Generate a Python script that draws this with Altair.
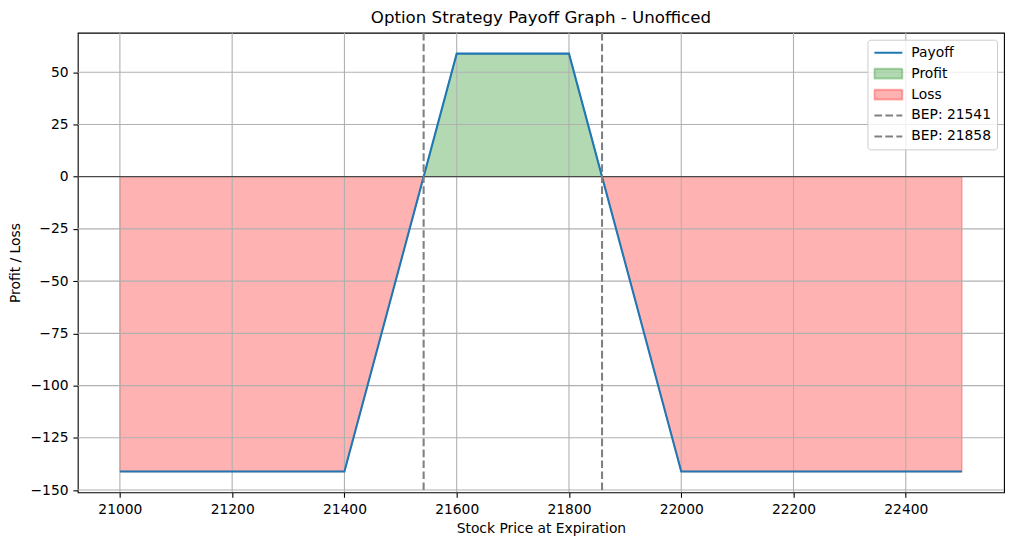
import altair as alt
import pandas as pd

# ---- data ----
price = [21000, 21400, 21600, 21800, 22000, 22500]
payoff = [-141.1, -141.1, 58.9, 58.9, -141.1, -141.1]
x_ticks = [21000, 21200, 21400, 21600, 21800, 22000, 22200, 22400]
y_ticks = [-150, -125, -100, -75, -50, -25, 0, 25, 50]
x_domain = [20925, 22575]
y_domain = [-151.1, 68.9]
chart_title = "Option Strategy Payoff Graph - Unofficed"
x_title = "Stock Price at Expiration"
y_title = "Profit / Loss"

# ---- break-even points (zero crossings of the payoff) ----
beps = []
pts = []
for i in range(len(price)):
    pts.append((price[i], payoff[i]))
    if i < len(price) - 1 and payoff[i] * payoff[i + 1] < 0:
        y0, y1 = payoff[i], payoff[i + 1]
        b = price[i] + (0 - y0) * (price[i + 1] - price[i]) / (y1 - y0)
        beps.append(b)
        pts.append((b, 0.0))

# split into profit / loss polygons
segments = []
cur = [pts[0]]
for p in pts[1:]:
    cur.append(p)
    if p[1] == 0:
        segments.append(cur)
        cur = [p]
segments.append(cur)
fill_rows = []
for k, s in enumerate(segments):
    kind = "Profit" if max(y for _, y in s) > 0 else "Loss"
    for x, y in s:
        fill_rows.append({"x": x, "y": y, "base": 0.0, "seg": k, "kind": kind})
fill_df = pd.DataFrame(fill_rows)

bep_labels = [f"BEP: {int(b)}" for b in beps]
legend_domain = ["Payoff", "Profit", "Loss"] + bep_labels

line_df = pd.DataFrame({"x": price, "y": payoff, "series": "Payoff"})
bep_df = pd.DataFrame({"x": beps, "series": bep_labels})
zero_df = pd.DataFrame({"y": [0.0]})
xgrid_df = pd.DataFrame({"x": x_ticks})
ygrid_df = pd.DataFrame({"y": y_ticks})

FONT = "DejaVu Sans"
xs = alt.Scale(domain=x_domain, nice=False, zero=False)
ys = alt.Scale(domain=y_domain, nice=False, zero=False)
x_axis = alt.Axis(values=x_ticks, format="d", title=x_title)
y_axis = alt.Axis(values=y_ticks, format="d", title=y_title)


def X(field="x"):
    return alt.X(f"{field}:Q", scale=xs, axis=x_axis)


def Y(field="y"):
    return alt.Y(f"{field}:Q", scale=ys, axis=y_axis)


loss = alt.Chart(fill_df).transform_filter(alt.datum.kind == "Loss").mark_area(
    fill="red", fillOpacity=0.3, stroke="red", strokeOpacity=0.3, strokeWidth=1.4
).encode(x=X(), y=Y(), y2="base:Q", detail="seg:N")

profit = alt.Chart(fill_df).transform_filter(alt.datum.kind == "Profit").mark_area(
    fill="green", fillOpacity=0.3, stroke="green", strokeOpacity=0.3, strokeWidth=1.4
).encode(x=X(), y=Y(), y2="base:Q", detail="seg:N")

# grid drawn above the fills but below the lines (matplotlib order)
xgrid = alt.Chart(xgrid_df).mark_rule(color="#b0b0b0", strokeWidth=1.1).encode(x=X())
ygrid = alt.Chart(ygrid_df).mark_rule(color="#b0b0b0", strokeWidth=1.1).encode(y=Y())

is_patch = "(datum.value=='Profit'||datum.value=='Loss')"
legend = alt.Legend(
    title=None,
    orient="top-right",
    offset=7,
    padding=6,
    fillColor="rgba(255,255,255,0.8)",
    strokeColor="#cccccc",
    cornerRadius=3,
    labelFont=FONT,
    labelFontSize=13.9,
    labelColor="black",
    labelOffset=8,
    symbolSize=784,
    clipHeight=14,
    rowPadding=7,
    symbolStrokeWidth=2,
    symbolType={"expr": f"{is_patch} ? 'M-1,-0.35H1V0.35H-1Z' : 'M-1,0H1'"},
    symbolFillColor={"expr": "datum.value=='Profit' ? 'rgba(0,128,0,0.3)' : datum.value=='Loss' ? 'rgba(255,0,0,0.3)' : 'transparent'"},
    symbolStrokeColor={"expr": "datum.value=='Payoff' ? '#1f77b4' : datum.value=='Profit' ? 'rgba(0,128,0,0.3)' : datum.value=='Loss' ? 'rgba(255,0,0,0.3)' : '#808080'"},
    symbolDash={"expr": "indexof(datum.value,'BEP')==0 ? [7.7,3.3] : [1,0]"},
)

line = alt.Chart(line_df).mark_line(color="#1f77b4", strokeWidth=2.08).encode(
    x=X(),
    y=Y(),
    opacity=alt.Opacity(
        "series:N",
        scale=alt.Scale(domain=legend_domain, range=[1] * len(legend_domain)),
        legend=legend,
    ),
)

zero_rule = alt.Chart(zero_df).mark_rule(color="black", strokeWidth=0.7).encode(y=Y())

bep_rules = alt.Chart(bep_df).mark_rule(
    color="#808080", strokeWidth=2.08, strokeDash=[7.7, 3.3]
).encode(x=X())

chart = (
    alt.layer(loss, profit, xgrid, ygrid, line, zero_rule, bep_rules)
    .properties(
        width=929,
        height=461,
        title=chart_title,
        padding={"left": 70, "top": 24, "right": 5, "bottom": 47},
        autosize=alt.AutoSizeParams(type="none"),
    )
    .configure_view(stroke="black", strokeWidth=1.1)
    .configure_title(font=FONT, fontSize=16.7, fontWeight="normal", color="black", anchor="middle", offset=5)
    .configure_axis(
        labelFont=FONT,
        labelFontSize=13.9,
        labelColor="black",
        titleFont=FONT,
        titleFontSize=13.9,
        titleFontWeight="normal",
        titleColor="black",
        tickColor="black",
        tickSize=4.9,
        tickWidth=1.1,
        labelPadding=4.9,
        domain=False,
        grid=False,
    )
    .configure_axisX(titlePadding=6)
    .configure_axisY(titlePadding=8)
)

chart.save("out.html", embed_options={"renderer": "svg", "actions": False})
